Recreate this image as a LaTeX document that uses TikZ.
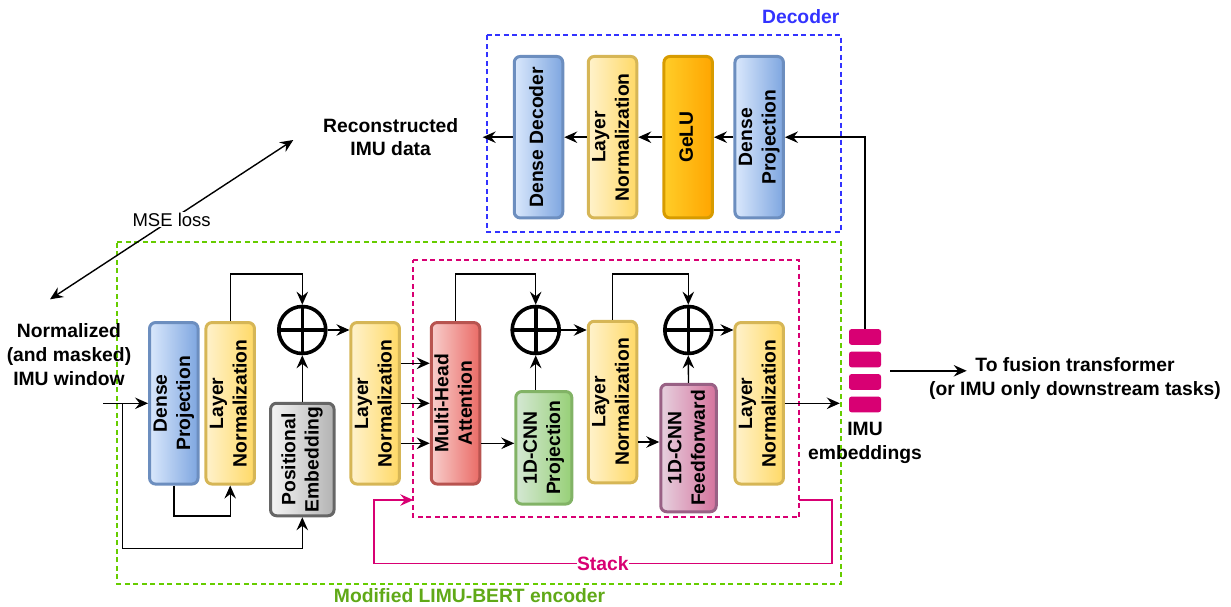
\documentclass[tikz,border=0pt]{standalone}
\usepackage{fontspec}
\setmainfont{Liberation Sans}
\usepackage{graphicx}
\usetikzlibrary{arrows.meta,calc,positioning}
\definecolor{densedraw}{HTML}{6C8EBF}
\definecolor{denselo}{HTML}{DAE8FC}
\definecolor{densehi}{HTML}{7EA6E0}
\definecolor{normdraw}{HTML}{D6B656}
\definecolor{normlo}{HTML}{FFF2CC}
\definecolor{normhi}{HTML}{FFD966}
\definecolor{geludraw}{HTML}{D79B00}
\definecolor{gelulo}{HTML}{FFCD28}
\definecolor{geluhi}{HTML}{FFA500}
\definecolor{attndraw}{HTML}{B85450}
\definecolor{attnlo}{HTML}{F8CECC}
\definecolor{attnhi}{HTML}{EA6B66}
\definecolor{cnndraw}{HTML}{82B366}
\definecolor{cnnlo}{HTML}{D5E8D4}
\definecolor{cnnhi}{HTML}{97D077}
\definecolor{ffwddraw}{HTML}{996185}
\definecolor{ffwdlo}{HTML}{E6D0DE}
\definecolor{ffwdhi}{HTML}{D5739D}
\definecolor{posdraw}{HTML}{666666}
\definecolor{poslo}{HTML}{F5F5F5}
\definecolor{poshi}{HTML}{B3B3B3}
\definecolor{stackcol}{HTML}{D80073}
\definecolor{deccol}{HTML}{3333FF}
\definecolor{encframe}{HTML}{66CC00}
\definecolor{enctext}{HTML}{60A917}
\newcommand{\vlabel}[1]{\rotatebox{90}{\begin{tabular}{@{}c@{}}#1\end{tabular}}}

\begin{document}
\begin{tikzpicture}[x=1pt,y=-1pt,
  block/.style={draw,line width=3pt,rounded corners=6pt,inner sep=0pt,
    minimum width=48.5pt,minimum height=161.5pt,
    font=\fontsize{19.3}{23.4}\selectfont\bfseries},
  dense/.style={block,draw=densedraw,left color=denselo,right color=densehi},
  norm/.style={block,draw=normdraw,left color=normlo,right color=normhi},
  gelu/.style={block,draw=geludraw,left color=gelulo,right color=geluhi},
  attn/.style={block,draw=attndraw,left color=attnlo,right color=attnhi},
  cnnproj/.style={block,draw=cnndraw,left color=cnnlo,right color=cnnhi,
    minimum width=56pt,minimum height=112.5pt},
  ffwd/.style={block,draw=ffwddraw,left color=ffwdlo,right color=ffwdhi,
    minimum width=55.5pt,minimum height=127.5pt},
  posemb/.style={block,draw=posdraw,left color=poslo,right color=poshi,
    minimum width=63.5pt,minimum height=112.5pt},
  adder/.style={circle,draw,line width=3.6pt,minimum size=47pt,inner sep=0pt,
    path picture={\draw[line width=3.6pt]
      (path picture bounding box.north) -- (path picture bounding box.south)
      (path picture bounding box.west) -- (path picture bounding box.east);}},
  plain/.style={align=center,font=\fontsize{19.3}{23.8}\selectfont\bfseries},
  title/.style={font=\fontsize{19.3}{23.8}\selectfont\bfseries},
  region/.style={rectangle,inner sep=0pt,outer sep=0pt},
  dashframe/.style={line width=2pt,dash pattern=on 5pt off 3.5pt,line cap=butt},
  arr/.style={line width=1.4pt,-{Stealth[length=13pt,width=11.5pt,inset=4.5pt]}},
  dblarr/.style={line width=1.4pt,
    {Stealth[length=13pt,width=11.5pt,inset=4.5pt]}-{Stealth[length=13pt,width=11.5pt,inset=4.5pt]}},
  stackarr/.style={arr,line width=1.6pt,draw=stackcol,color=stackcol}
]
\useasboundingbox (0,0) rectangle (1231,607);

\node[region,minimum width=354.3pt,minimum height=196.7pt] (decbox) at (663.85,133.35) {};
\node[region,minimum width=723.4pt,minimum height=342.1pt] (encbox) at (479,412.75) {};
\node[region,minimum width=386pt,minimum height=257.3pt] (stackbox) at (606.3,388.65) {};
\foreach \reg/\col in {decbox/deccol,encbox/encframe,stackbox/stackcol}
  \draw[dashframe,draw=\col] (\reg.north west) -- (\reg.north east)
    -- (\reg.south east) -- (\reg.south west) -- cycle;
\node[title,text=deccol] (declabel) at (800.7,16.7) {Decoder};
\node[title,text=enctext] (enclabel) at (469.6,596) {Modified LIMU-BERT encoder};

\node[dense] (ddec) at (538.5,137.2) {\vlabel{Dense Decoder}};
\node[norm] (dln) at (612.5,137.2) {\vlabel{Layer\\Normalization}};
\node[gelu] (gelu) at (688.2,137.2) {\vlabel{GeLU}};
\node[dense] (dproj) at (759.2,137.2) {\vlabel{Dense\\Projection}};

\node[dense] (eproj) at (173.8,403.3) {\vlabel{Dense\\Projection}};
\node[norm] (eln1) at (230.2,403.3) {\vlabel{Layer\\Normalization}};
\node[adder] (add1) at (302.3,330) {};
\node[posemb] (pemb) at (302.3,459.5) {\vlabel{Positional\\Embedding}};
\node[norm] (eln2) at (375.2,403.3) {\vlabel{Layer\\Normalization}};
\node[attn] (mha) at (455.5,403.3) {\vlabel{Multi-Head\\Attention}};
\node[adder] (add2) at (535.7,330) {};
\node[cnnproj] (cnnp) at (543.8,447.8) {\vlabel{1D-CNN\\Projection}};
\node[norm] (eln3) at (612.5,402) {\vlabel{Layer\\Normalization}};
\node[adder] (add3) at (688.3,330) {};
\node[ffwd] (cnnf) at (688.5,448) {\vlabel{1D-CNN\\Feedforward}};
\node[norm] (eln4) at (759.2,403.3) {\vlabel{Layer\\Normalization}};

\node[minimum width=50pt,minimum height=83pt] (emb) at (865,370.8) {};
\foreach \k in {0,1,2,3}
  \fill[stackcol,rounded corners=2.5pt] ($(emb.north)+(-16,22.5*\k)$) rectangle ++(32,15.7);

\node[plain] (inlabel) at (69,354.5) {Normalized\\(and masked)\\IMU window};
\node[plain] (reclabel) at (390.7,137.2) {Reconstructed\\IMU data};
\node[plain] (emblabel) at (865,443.3) {IMU\\embeddings};
\node[plain] (fuslabel) at (1075,378.3) {To fusion transformer\\(or IMU only downstream tasks)};

\coordinate (in) at (103,403.3);
\coordinate (split) at (122.3,403.3);
\coordinate (skipy) at (0,274);
\coordinate (lowy) at (0,548.3);
\coordinate (stacky) at (0,500);
\coordinate (recout) at (482.7,137.2);
\coordinate (fusin) at (966.7,370.8);
\coordinate (mseA) at (50,299.3);
\coordinate (mseB) at (293.3,140);

\draw[arr] (in) -- (eproj.west);
\draw[arr] (split) -- (split |- lowy) -| (pemb.south);
\draw[arr] (eproj.south) -- ++(0,30.5) -| (eln1.south);
\draw[arr] (eln1.north) -- (eln1.north |- skipy) -| (add1.north);
\draw[arr] (pemb.north) -- (add1.south);
\draw[arr] (add1.east) -- (add1.east -| eln2.west);
\foreach \dy in {-40,0,40}
  \draw[arr] ([yshift=\dy pt]eln2.east) -- ([yshift=\dy pt]mha.west);
\draw[arr] (mha.north) -- (mha.north |- skipy) -| (add2.north);
\draw[arr] ([yshift=-40pt]mha.east) -- ([yshift=-40pt]mha.east -| cnnp.west);
\draw[arr] (add2 |- cnnp.north) -- (add2.south);
\draw[arr] (add2.east) -- (add2.east -| eln3.west);
\draw[arr] (eln3.north) -- (eln3.north |- skipy) -| (add3.north);
\draw[arr] ([yshift=-40pt]eln3.east) -- ([yshift=-40pt]eln3.east -| cnnf.west);
\draw[arr] (cnnf.north) -- (add3.south);
\draw[arr] (add3.east) -- (add3.east -| eln4.west);
\draw[arr] (eln4.east) -- (eln4.east -| emb.west);
\draw[arr] (emb.north) |- (dproj.east);
\draw[arr] (dproj.west) -- (gelu.east);
\draw[arr] (gelu.west) -- (dln.east);
\draw[arr] (dln.west) -- (ddec.east);
\draw[arr] (ddec.west) -- (recout);
\draw[arr] (emb.east) -- (fusin);
\draw[dblarr] (mseA) -- node[fill=white,inner sep=1pt,font=\fontsize{18.5}{22}\selectfont] {MSE loss} (mseB);
\draw[stackarr] (stacky -| stackbox.east) -| (831.7,563.3)
  -- node[fill=white,inner sep=0pt,font=\fontsize{19.3}{22}\selectfont\bfseries] {Stack} (374,563.3)
  |- (stacky -| stackbox.west);
\end{tikzpicture}
\end{document}
